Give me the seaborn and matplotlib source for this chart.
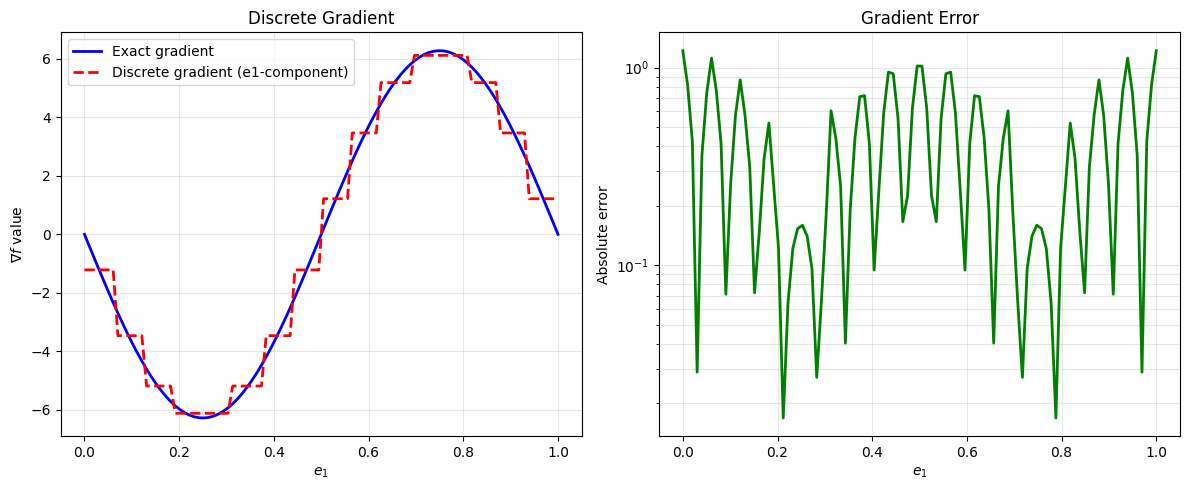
import numpy as np
import seaborn as sns
import matplotlib.pyplot as plt

# sample grid along e1
e1 = np.linspace(0, 1, 100)

exact_grad = [
    0.0, -0.3985, -0.7954, -1.1891, -1.5780, -1.9606, -2.3352, -2.7005, -3.0549, -3.3970,
    -3.7254, -4.0388, -4.3359, -4.6156, -4.8767, -5.1181, -5.3390, -5.5383, -5.7154, -5.8694,
    -5.9998, -6.1061, -6.1877, -6.2445, -6.2761, -6.2824, -6.2634, -6.2192, -6.1500, -6.0560,
    -5.9376, -5.7953, -5.6297, -5.4414, -5.2312, -4.9999, -4.7485, -4.4780, -4.1894, -3.8840,
    -3.5629, -3.2275, -2.8791, -2.5191, -2.1490, -1.7702, -1.3843, -0.9928, -0.5973, -0.1994,
    0.1994, 0.5973, 0.9928, 1.3843, 1.7702, 2.1490, 2.5191, 2.8791, 3.2275, 3.5629,
    3.8840, 4.1894, 4.4780, 4.7485, 4.9999, 5.2312, 5.4414, 5.6297, 5.7953, 5.9376,
    6.0560, 6.1500, 6.2192, 6.2634, 6.2824, 6.2761, 6.2445, 6.1877, 6.1061, 5.9998,
    5.8694, 5.7154, 5.5383, 5.3390, 5.1181, 4.8767, 4.6156, 4.3359, 4.0388, 3.7254,
    3.3970, 3.0549, 2.7005, 2.3352, 1.9606, 1.5780, 1.1891, 0.7954, 0.3985, 0.0,
]

discrete_grad = (
    [-1.2179] * 7 + [-3.4684] * 6 + [-5.1908] * 6 + [-6.1229] * 6
    + [-6.1229] * 6 + [-5.1908] * 7 + [-3.4684] * 6 + [-1.2179] * 6
    + [1.2179] * 6 + [3.4684] * 6 + [5.1908] * 7 + [6.1229] * 6
    + [6.1229] * 6 + [5.1908] * 6 + [3.4684] * 6 + [1.2179] * 7
)

abs_error = [
    1.2179, 0.8194, 0.4225, 0.0288, 0.3601, 0.7427, 1.1173, 0.7679, 0.4135, 0.0714,
    0.2570, 0.5704, 0.8675, 0.5752, 0.3141, 0.0726, 0.1482, 0.3476, 0.5246, 0.2535,
    0.1231, 0.0169, 0.0648, 0.1215, 0.1531, 0.1595, 0.1405, 0.0963, 0.0271, 0.0669,
    0.1853, 0.6045, 0.4389, 0.2506, 0.0404, 0.1909, 0.4423, 0.7128, 0.7211, 0.4156,
    0.0946, 0.2408, 0.5893, 0.9493, 0.9311, 0.5523, 0.1663, 0.2252, 0.6207, 1.0186,
    1.0186, 0.6207, 0.2252, 0.1663, 0.5523, 0.9311, 0.9493, 0.5893, 0.2408, 0.0946,
    0.4156, 0.7211, 0.7128, 0.4423, 0.1909, 0.0404, 0.2506, 0.4389, 0.6045, 0.1853,
    0.0669, 0.0271, 0.0963, 0.1405, 0.1595, 0.1531, 0.1215, 0.0648, 0.0169, 0.1231,
    0.2535, 0.5246, 0.3476, 0.1482, 0.0726, 0.3141, 0.5752, 0.8675, 0.5704, 0.2570,
    0.0714, 0.4135, 0.7679, 1.1173, 0.7427, 0.3601, 0.0288, 0.4225, 0.8194, 1.2179,
]

fig, (ax1, ax2) = plt.subplots(1, 2, figsize=(12, 5), dpi=100)

sns.lineplot(x=e1, y=exact_grad, ax=ax1, color="blue", linewidth=2,
             label="Exact gradient", sort=False)
sns.lineplot(x=e1, y=discrete_grad, ax=ax1, color="red", linewidth=2,
             linestyle="--", label="Discrete gradient (e1-component)", sort=False)
ax1.set_title("Discrete Gradient")
ax1.set_xlabel("$e_1$")
ax1.set_ylabel(r"$\nabla f$ value")
ax1.grid(True, alpha=0.3)
ax1.legend(loc="upper left")

sns.lineplot(x=e1, y=abs_error, ax=ax2, color="green", linewidth=2, sort=False)
ax2.set_yscale("log")
ax2.set_title("Gradient Error")
ax2.set_xlabel("$e_1$")
ax2.set_ylabel("Absolute error")
ax2.grid(True, which="both", alpha=0.3)

plt.tight_layout()
plt.savefig("out.png", bbox_inches="tight")
